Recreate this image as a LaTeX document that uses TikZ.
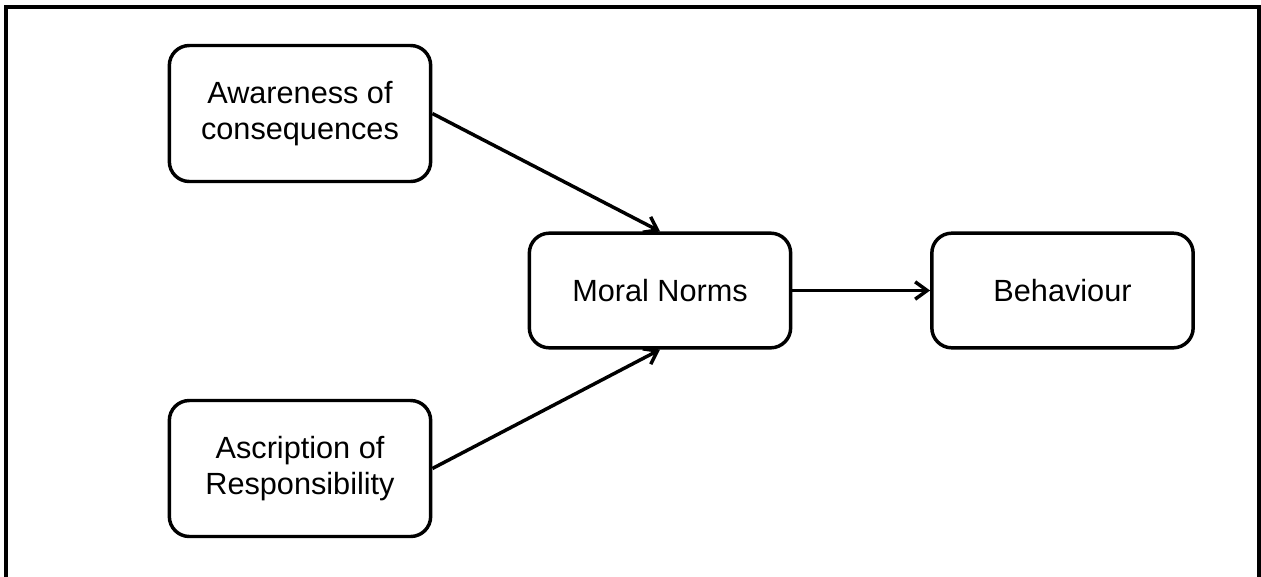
\documentclass[tikz,border=0pt]{standalone}
\usepackage{fontspec}
\setmainfont{Liberation Sans}
\usetikzlibrary{arrows.meta}

\begin{document}
\begin{tikzpicture}[x=0.75pt, y=-0.75pt,
  box/.style={draw, line width=2.6pt, rounded corners=15pt, minimum width=196pt,
    minimum height=102pt, align=center, font=\fontsize{23}{27}\selectfont},
  link/.style={line width=2.6pt, -{Straight Barb[length=9pt, width=13pt, line width=2.6pt]}}]
  % Page and open frame
  \useasboundingbox (0,0) rectangle (1261,576);
  \draw[line width=2.4pt] (6,590) -- (6,7) -- (1259,7) -- (1259,590);

  % Boxes
  \node[box] (aware) at (300,113.5) {Awareness of\\consequences};
  \node[box] (ascr) at (300,468.5) {Ascription of\\Responsibility};
  \node[box, minimum height=86pt] (moral) at (660,290.5) {Moral Norms};
  \node[box, minimum height=86pt] (behav) at (1062.5,290.5) {Behaviour};

  % Arrows
  \draw[link] (aware.east) -- (moral.north);
  \draw[link] (ascr.east) -- (moral.south);
  \draw[link] (moral.east) -- (behav.west);
\end{tikzpicture}
\end{document}
